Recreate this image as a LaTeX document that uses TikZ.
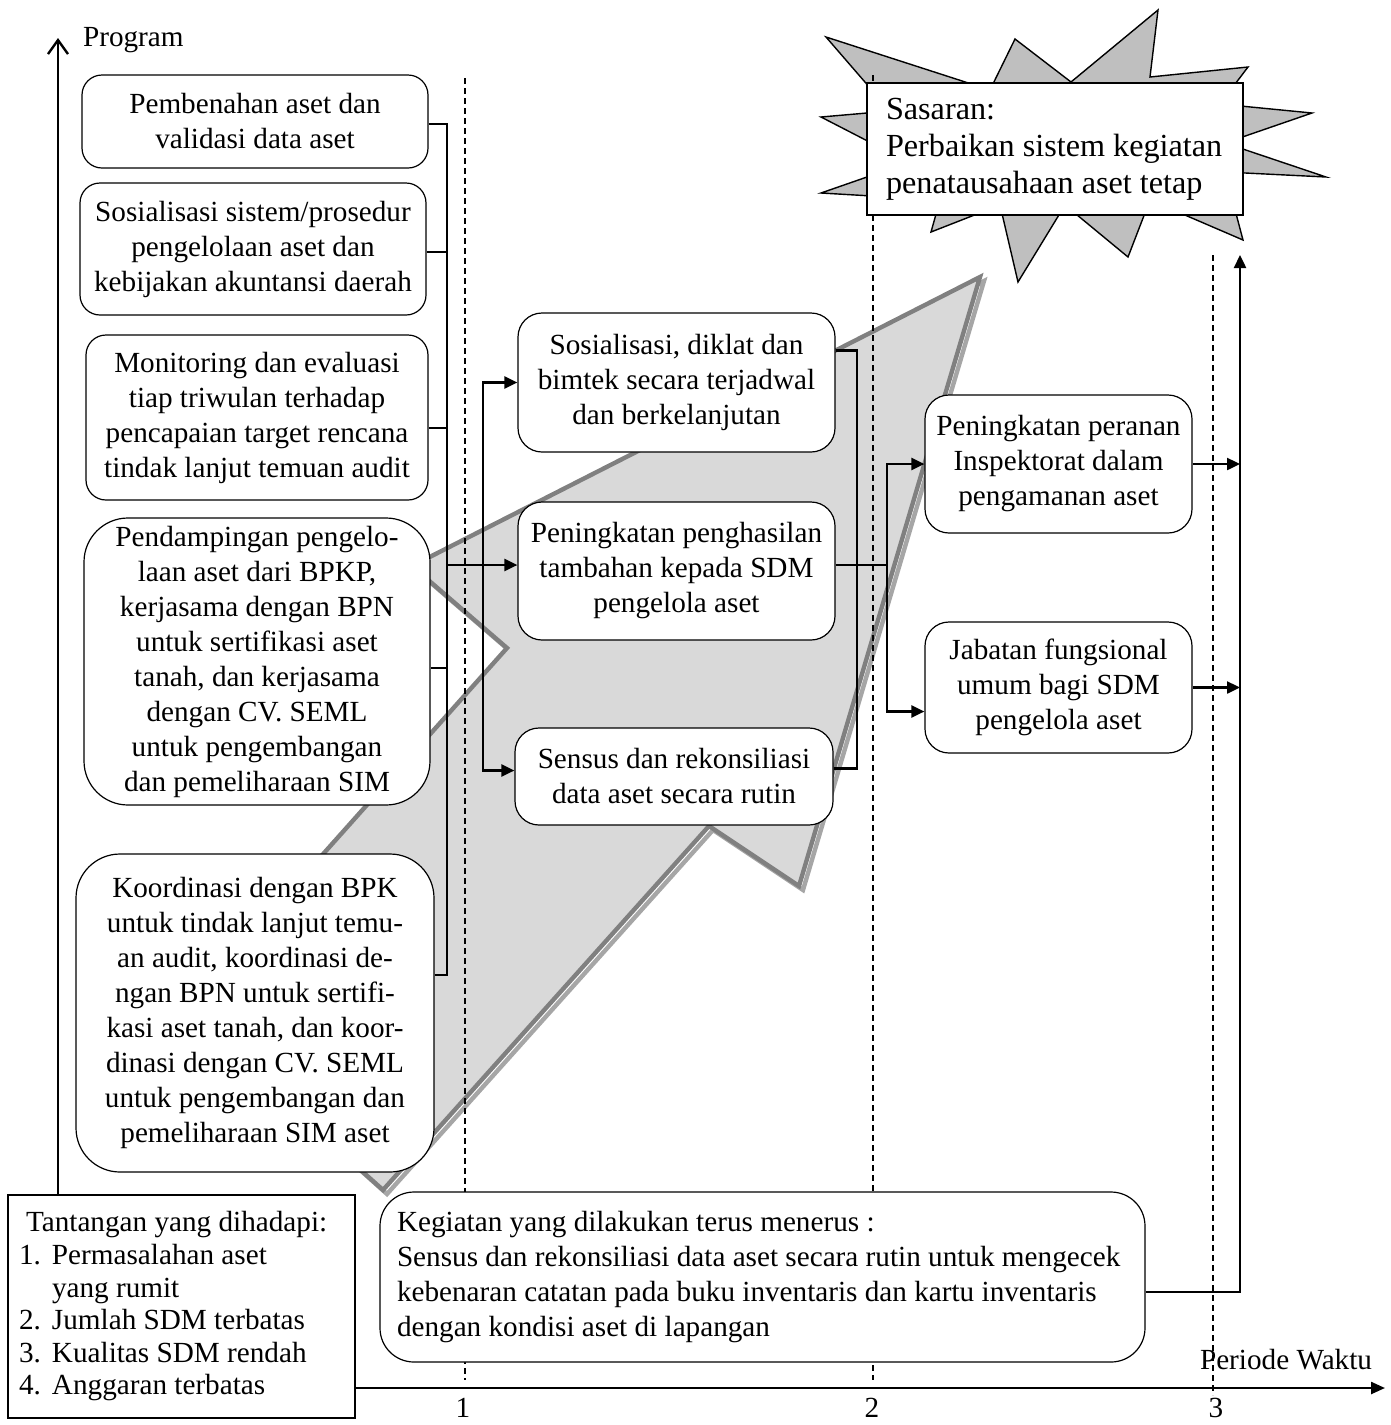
\documentclass[tikz,border=0pt]{standalone}
\usepackage{fontspec}
\setmainfont{Liberation Serif}
\usetikzlibrary{arrows.meta}
\tikzset{
    roundbox/.style={draw, line width=0.6pt, fill=white, rounded corners=10pt, align=center, inner sep=2pt},
    plainbox/.style={draw, line width=0.6pt, fill=white, align=flush left},
    link/.style={line width=1.2pt},
    linkarrow/.style={line width=1.2pt, -{Triangle[length=6.5pt,width=6pt]}},
    guide/.style={line width=0.7pt, dash pattern=on 3pt off 2pt},
}

\begin{document}
\begin{tikzpicture}[x=0.5pt,y=-0.5pt,font=\fontsize{14.6}{17.5}\selectfont]
\useasboundingbox (0,0) rectangle (1391,1425);
% big arrow behind everything
\draw[black!35,line width=2.2pt,xshift=2pt,yshift=-2pt] (980,277) -- (799,886) -- (709,826) -- (383,1190) -- (183,1011) -- (507,648) -- (412,566) -- cycle;
\draw[black!50,fill=black!15,line width=2.2pt] (980,277) -- (799,886) -- (709,826) -- (383,1190) -- (183,1011) -- (507,648) -- (412,566) -- cycle;
% star
\draw[fill=black!25,line width=0.7pt] (826,37) -- (990,90) -- (1015,39) -- (1071,82) -- (1158,10) -- (1150,77) -- (1248,67) -- (1220,104) -- (1312,113) -- (1225,143) -- (1326,177) -- (1225,172) -- (1243,240) -- (1150,200) -- (1128,257) -- (1065,205) -- (1018,282) -- (1000,205) -- (931,232) -- (940,200) -- (821,193) -- (890,169) -- (885,150) -- (821,117) -- (890,111) -- cycle;
% period lines
\draw[guide] (465,78) -- (465,1380);
\draw[guide] (873,75) -- (873,1380);
\draw[guide] (1213,255) -- (1213,1395);

\node[plainbox,text width=169pt,inner xsep=9.5pt,minimum width=188pt,minimum height=66pt,font=\fontsize{16.1}{18.5}\selectfont] (sasaran) at (1055,149) {Sasaran:\\Perbaikan sistem kegiatan\\penatausahaan aset tetap};

\node[roundbox,minimum width=173pt,minimum height=46.5pt] (pemb) at (255,121.5) {Pembenahan aset dan\\validasi data aset};
\node[roundbox,minimum width=173pt,minimum height=66pt] (sos) at (253,249) {Sosialisasi sistem/prosedur\\pengelolaan aset dan\\kebijakan akuntansi daerah};
\node[roundbox,minimum width=171pt,minimum height=82.5pt] (mon) at (257,417.5) {Monitoring dan evaluasi\\tiap triwulan terhadap\\pencapaian target rencana\\tindak lanjut temuan audit};
\node[roundbox,rounded corners=22pt,minimum width=173pt,minimum height=143.5pt] (pend) at (257,661.5) {Pendampingan pengelo-\\laan aset dari BPKP,\\kerjasama dengan BPN\\untuk sertifikasi aset\\tanah, dan kerjasama\\dengan CV. SEML\\untuk pengembangan\\dan pemeliharaan SIM};
\node[roundbox,rounded corners=22pt,minimum width=179pt,minimum height=159pt] (koord) at (255,1013) {Koordinasi dengan BPK\\untuk tindak lanjut temu-\\an audit, koordinasi de-\\ngan BPN untuk sertifi-\\kasi aset tanah, dan koor-\\dinasi dengan CV. SEML\\untuk pengembangan dan\\pemeliharaan SIM aset};

\node[roundbox,rounded corners=12pt,minimum width=158.5pt,minimum height=69.5pt] (diklat) at (676.5,382.5) {Sosialisasi, diklat dan\\bimtek secara terjadwal\\dan berkelanjutan};
\node[roundbox,rounded corners=12pt,minimum width=158.5pt,minimum height=69pt] (hasil) at (676.5,571) {Peningkatan penghasilan\\tambahan kepada SDM\\pengelola aset};
\node[roundbox,rounded corners=12pt,minimum width=159pt,minimum height=48.5pt] (sensus) at (674,776.5) {Sensus dan rekonsiliasi\\data aset secara rutin};

\node[roundbox,rounded corners=12pt,minimum width=133.5pt,minimum height=69pt] (peranan) at (1058.5,464) {Peningkatan peranan\\Inspektorat dalam\\pengamanan aset};
\node[roundbox,rounded corners=12pt,minimum width=133.5pt,minimum height=65.5pt] (jabatan) at (1058.5,687.5) {Jabatan fungsional\\umum bagi SDM\\pengelola aset};

\node[roundbox,rounded corners=17pt,align=flush left,text width=365.5pt,inner xsep=8.5pt,minimum width=382.5pt,minimum height=85pt] (keg) at (762.5,1277) {Kegiatan yang dilakukan terus menerus :\\Sensus dan rekonsiliasi data aset secara rutin untuk mengecek\\kebenaran catatan pada buku inventaris dan kartu inventaris\\dengan kondisi aset di lapangan};
\node[plainbox,text width=162.5pt,inner xsep=5.5pt,minimum width=173.5pt,minimum height=111.5pt,font=\fontsize{14.6}{16.3}\selectfont] (tant) at (181.5,1306.5) {\hspace*{3.5pt}Tantangan yang dihadapi:\\\makebox[16.5pt][l]{1.}Permasalahan aset\\\hspace*{16.5pt}yang rumit\\\makebox[16.5pt][l]{2.}Jumlah SDM terbatas\\\makebox[16.5pt][l]{3.}Kualitas SDM rendah\\\makebox[16.5pt][l]{4.}Anggaran terbatas};

% axes
\coordinate (ytop) at (58,38);
\coordinate (xend) at (1385,1388);
\draw[line width=1.2pt,-{Straight Barb[length=7pt,width=10pt]}] (tant.north -| ytop) -- (ytop);
\draw[line width=1.2pt,-{Triangle[length=7pt,width=6pt]}] (tant.east |- xend) -- (xend);
\node[anchor=west] (prog) at (76,40) {Program};
\node (periode) at (1286,1360) {Periode Waktu};
\node (n1) at (463,1408) {1};
\node (n2) at (872,1408) {2};
\node (n3) at (1216,1408) {3};

% junctions
\coordinate (jl) at (447,565);
\coordinate (jm) at (483,565);
\coordinate (jr) at (857,565);
\coordinate (jq) at (887,565);
\coordinate (goal) at (1240,255);

\draw[link] ([yshift=-1.25pt]pemb.east) -| (jl);
\draw[link] ([yshift=-1.5pt]sos.east) -| (jl);
\draw[link] ([yshift=-5.25pt]mon.east) -| (jl);
\draw[link] ([yshift=-3.25pt]pend.east) -| (jl);
\draw[link] ([yshift=19pt]koord.east) -| (jl);
\draw[linkarrow] (jl) -- (jl -| hasil.west);
\draw[linkarrow] (jm) |- (diklat.west);
\draw[linkarrow] (jm) |- ([yshift=3pt]sensus.west);

\draw[link] ([yshift=16pt]diklat.east) -| (jr);
\draw[link] ([yshift=4pt]sensus.east) -| (jr);
\draw[link] (hasil.east |- jr) -- (jq);
\draw[linkarrow] (jq) |- (peranan.west);
\draw[linkarrow] (jq) |- ([yshift=-12pt]jabatan.west);

\draw[linkarrow] (peranan.east) -- (peranan.east -| goal);
\draw[linkarrow] (jabatan.east) -- (jabatan.east -| goal);
\draw[linkarrow] ([yshift=-7.5pt]keg.east) -| (goal);
\end{tikzpicture}
\end{document}
